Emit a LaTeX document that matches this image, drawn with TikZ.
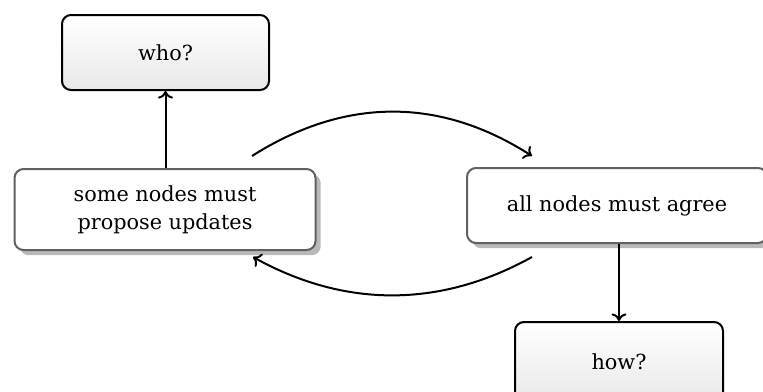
\documentclass[tikz,border=0pt]{standalone}
\usepackage{fontspec}
\setmainfont{DejaVu Serif}
\usetikzlibrary{shadows,arrows.meta}
\begin{document}
\begin{tikzpicture}[x=0.5pt,y=-0.5pt,
  every node/.style={font=\fontsize{10.4}{14}\selectfont, align=center, inner sep=0pt},
  endbox/.style={draw=black, line width=1pt, rounded corners=4.5pt,
     top color=white, bottom color=gray!18, minimum height=37.5pt},
  midbox/.style={draw=gray!75!black, line width=1pt, rounded corners=4.5pt, fill=white,
     drop shadow={shadow xshift=2.6pt, shadow yshift=-2.6pt, fill=gray!55, opacity=1},
     minimum height=39pt},
  conn/.style={line width=1pt, -{To[length=3.8pt,width=7.5pt]}}]
\useasboundingbox (0,0) rectangle (763,391);
\node[endbox, minimum width=103.5pt] (who) at (165.5,52.5) {who?};
\node[midbox, minimum width=150.5pt, minimum height=40.5pt] (some) at (165,209.5) {some nodes must\\propose updates};
\node[midbox, minimum width=150pt, minimum height=37.5pt] (all) at (617,205.5) {all nodes must agree};
\node[endbox, minimum width=104pt, minimum height=40pt] (how) at (619,362) {how?};
\coordinate (t1) at (252,156);
\coordinate (t2) at (532,156);
\coordinate (b1) at (532,257);
\coordinate (b2) at (253,257);
\draw[conn] (some.north -| who.south) -- (who.south);
\draw[conn] (all.south -| how.north) -- (how.north);
\draw[conn] (t1) .. controls (345,97) and (440,97) .. (t2);
\draw[conn] (b1) .. controls (440,308) and (345,308) .. (b2);
\end{tikzpicture}
\end{document}
